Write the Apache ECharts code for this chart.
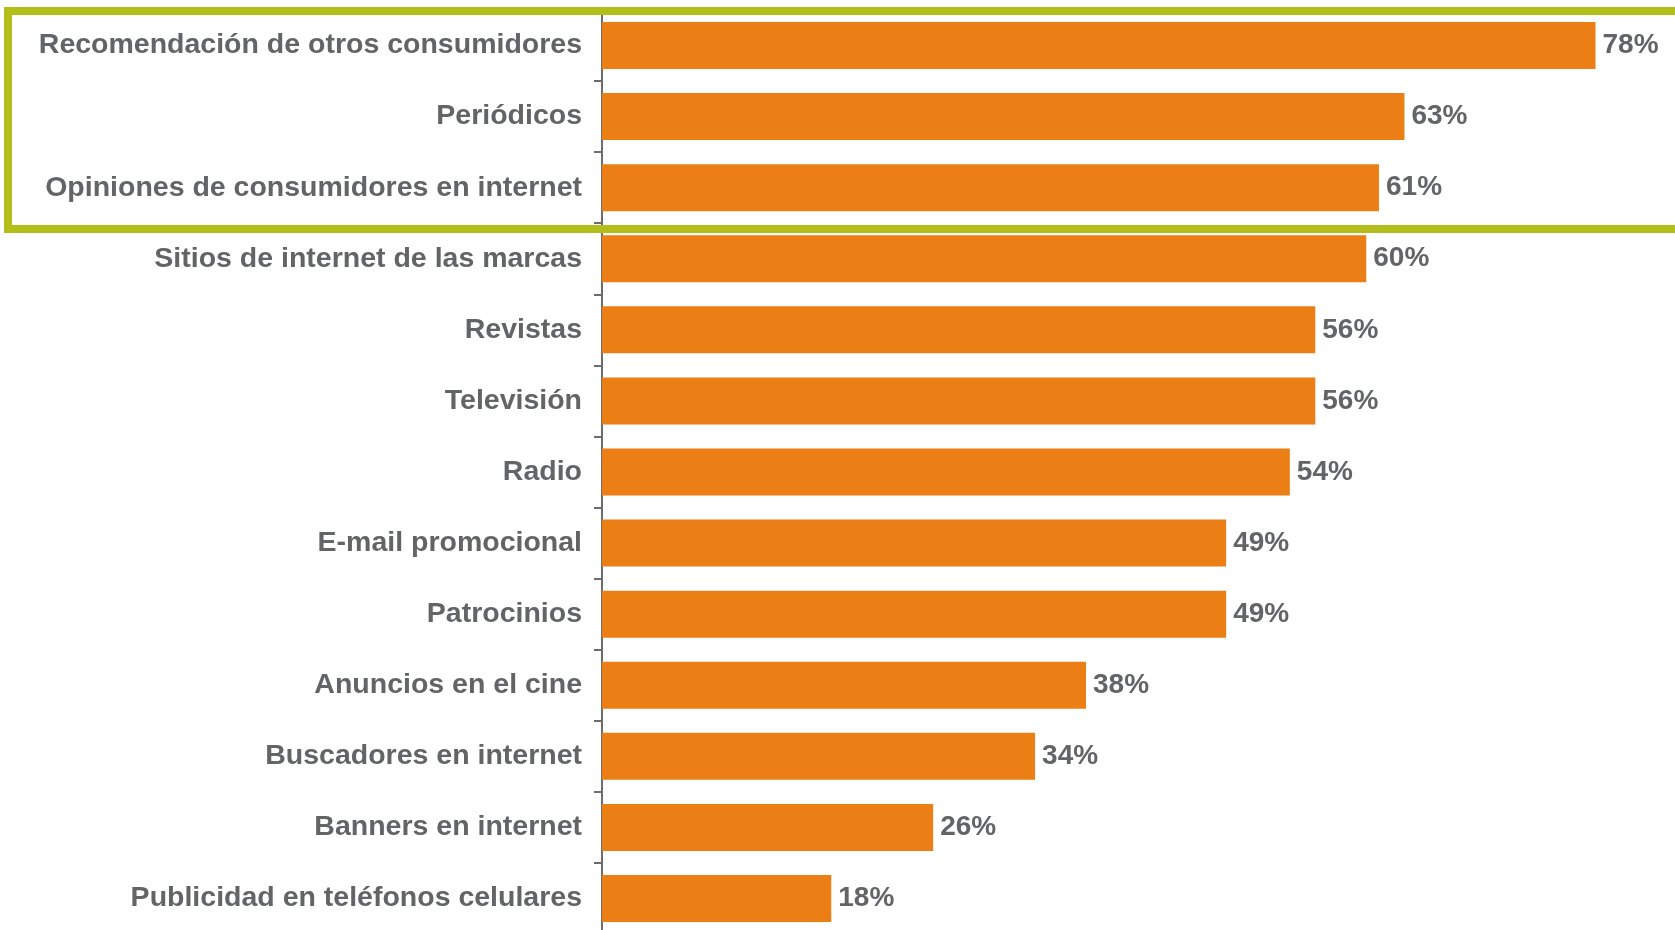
<!DOCTYPE html>
<html>
<head>
<meta charset="utf-8">
<script src="https://cdn.jsdelivr.net/npm/echarts@6/dist/echarts.min.js"></script>
<style>
  html, body { margin: 0; padding: 0; background: #ffffff; }
  #chart { width: 1675px; height: 930px; }
</style>
</head>
<body>
<div id="chart"></div>
<script>
// Media sources, top to bottom
const categories = [
  'Recomendación de otros consumidores',
  'Periódicos',
  'Opiniones de consumidores en internet',
  'Sitios de internet de las marcas',
  'Revistas',
  'Televisión',
  'Radio',
  'E-mail promocional',
  'Patrocinios',
  'Anuncios en el cine',
  'Buscadores en internet',
  'Banners en internet',
  'Publicidad en teléfonos celulares'
];
// Share of respondents who trust each source (%)
const trustValues = [78, 63, 61, 60, 56, 56, 54, 49, 49, 38, 34, 26, 18];

const textColor = '#636466';
const fontFamily = '"Liberation Sans", Arial, sans-serif';

const chart = echarts.init(document.getElementById('chart'));
chart.setOption({
  backgroundColor: '#ffffff',
  animation: false,
  grid: {
    left: 602, top: 10, width: 1019, height: 924,
    containLabel: false,
    outerBoundsMode: 'none'
  },
  xAxis: {
    type: 'value', min: 0, max: 80,
    show: false
  },
  yAxis: {
    type: 'category',
    data: categories,
    inverse: true,
    axisLine: { show: true, lineStyle: { color: '#6d6d6d', width: 2 } },
    axisTick: { show: true, length: 8, lineStyle: { color: '#6d6d6d', width: 2 } },
    axisLabel: {
      margin: 20,
      color: textColor,
      fontSize: 28.5,
      fontWeight: 'bold',
      fontFamily: fontFamily,
      padding: [7, 0, 0, 0]
    },
    splitLine: { show: false }
  },
  series: [{
    type: 'bar',
    data: trustValues,
    barWidth: 47,
    itemStyle: { color: '#EB7F15' },
    label: {
      show: true,
      position: 'right',
      distance: 7,
      formatter: '{c}%',
      color: textColor,
      fontSize: 28,
      fontWeight: 'bold',
      fontFamily: fontFamily
    }
  }],
  graphic: [{
    type: 'rect',
    z: 100,
    shape: { x: 8, y: 11, width: 1700, height: 218 },
    style: { fill: 'none', stroke: '#B3BE1B', lineWidth: 8 }
  }]
});
</script>
</body>
</html>
